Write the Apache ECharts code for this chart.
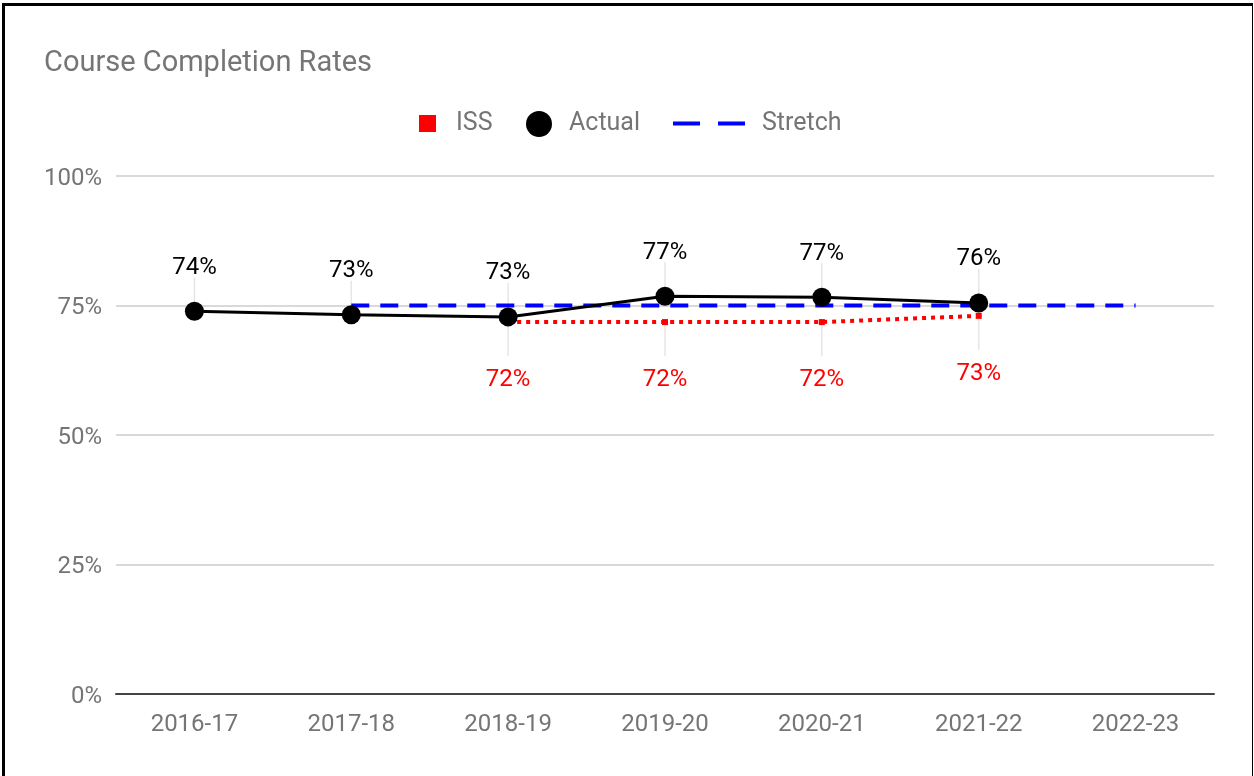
<!DOCTYPE html>
<html>
<head>
<meta charset="utf-8">
<title>Course Completion Rates</title>
<script src="https://cdn.jsdelivr.net/npm/echarts@6/dist/echarts.min.js"></script>
<style>
  html, body { margin: 0; padding: 0; background: #fff; }
  #wrap { position: relative; width: 1254px; height: 776px; overflow: hidden; }
  #chart { position: absolute; left: 0; top: 0; width: 1254px; height: 776px; }
  .frame { position: absolute; background: #000; }
</style>
</head>
<body>
<div id="wrap">
  <div id="chart"></div>
  <div class="frame" style="left:2px; top:3px; width:1251px; height:3px;"></div>
  <div class="frame" style="left:2px; top:3px; width:3px; height:773px;"></div>
  <div class="frame" style="left:1252px; top:3px; width:1px; height:773px;"></div>
</div>
<script>
// School years on the category axis
const years = ['2016-17', '2017-18', '2018-19', '2019-20', '2020-21', '2021-22', '2022-23'];
// Completion rate (%) per year
const actual = [73.9, 73.2, 72.8, 76.8, 76.6, 75.5, null];
const iss = [null, null, 71.8, 71.8, 71.8, 73.0, null];
const stretch = [null, 75, 75, 75, 75, 75, 75];
// Value-axis ticks
const yTicks = [0, 25, 50, 75, 100];

const FONT = 'Roboto';
const GREY = '#757575';

const chart = echarts.init(document.getElementById('chart'), null, { renderer: 'canvas' });

function pct(v) { return Math.round(v) + '%'; }

// Thin annotation stems linking value labels to their points
function stemSeries(values, dir) {
  const data = [];
  values.forEach((v, i) => { if (v != null) data.push([i, v]); });
  return {
    type: 'custom',
    silent: true,
    z: 1,
    data: data,
    renderItem: function (params, api) {
      const p = api.coord([api.value(0), api.value(1)]);
      const y2 = dir < 0 ? p[1] - 34 : p[1] + 34;
      return {
        type: 'line',
        shape: { x1: p[0], y1: p[1], x2: p[0], y2: y2 },
        style: { stroke: '#e6e6e6', lineWidth: 1.5 }
      };
    }
  };
}

const legendText = { color: GREY, fontSize: 25, fontFamily: FONT };

chart.setOption({
  backgroundColor: '#fff',
  animation: false,
  title: {
    text: 'Course Completion Rates',
    left: 44,
    top: 49,
    padding: 0,
    textStyle: { color: GREY, fontSize: 29, fontWeight: 'normal', fontFamily: FONT }
  },
  legend: [
    {
      data: [{ name: 'ISS', icon: 'rect' }],
      left: 419, top: 111, padding: 0, itemWidth: 17, itemHeight: 17,
      textStyle: Object.assign({ padding: [0, 0, 0, 15] }, legendText)
    },
    {
      data: [{ name: 'Actual', icon: 'circle' }],
      left: 526, top: 111, padding: 0, itemWidth: 26, itemHeight: 26,
      textStyle: Object.assign({ padding: [0, 0, 0, 12] }, legendText)
    },
    {
      data: [{ name: 'Stretch', icon: 'path://M0,0H27V4H0Z M45,0H72V4H45Z' }],
      left: 673, top: 111, padding: 0, itemWidth: 72, itemHeight: 4,
      textStyle: Object.assign({ padding: [0, 0, 0, 12] }, legendText)
    }
  ],
  grid: { left: 116, right: 40, top: 176, bottom: 82, containLabel: false },
  xAxis: {
    type: 'category',
    data: years,
    boundaryGap: true,
    axisLine: { show: true, lineStyle: { color: '#444', width: 2 } },
    axisTick: { show: false },
    axisLabel: { color: GREY, fontSize: 24, fontFamily: FONT, margin: 19 },
    splitLine: { show: false }
  },
  yAxis: {
    type: 'value',
    min: yTicks[0],
    max: yTicks[yTicks.length - 1],
    interval: yTicks[1] - yTicks[0],
    axisLine: { show: false },
    axisTick: { show: false },
    axisLabel: {
      color: GREY, fontFamily: FONT, margin: 14,
      formatter: '{t|{value}%}',
      rich: { t: { color: GREY, fontSize: 24, fontFamily: FONT, padding: [5, 0, 0, 0] } }
    },
    splitLine: { lineStyle: { color: '#cccccc', width: 1.5 } }
  },
  series: [
    stemSeries(actual, -1),
    stemSeries(iss, 1),
    {
      name: 'Stretch',
      type: 'line',
      data: stretch,
      z: 2,
      showSymbol: false,
      symbol: 'none',
      itemStyle: { color: '#0000ff' },
      lineStyle: { color: '#0000ff', width: 4, type: [18, 11] }
    },
    {
      name: 'ISS',
      type: 'line',
      data: iss,
      z: 3,
      symbol: 'rect',
      symbolSize: 6,
      itemStyle: { color: '#ff0000' },
      lineStyle: { color: '#ff0000', width: 4, type: [4, 5], cap: 'butt' },
      label: {
        show: true,
        position: 'bottom',
        distance: 43,
        color: '#ff0000',
        fontSize: 24,
        fontFamily: FONT,
        formatter: p => pct(p.value)
      }
    },
    {
      name: 'Actual',
      type: 'line',
      data: actual,
      z: 4,
      symbol: 'circle',
      symbolSize: 19,
      itemStyle: { color: '#000000' },
      lineStyle: { color: '#000000', width: 3 },
      label: {
        show: true,
        position: 'top',
        distance: 22,
        color: '#000000',
        fontSize: 24,
        fontFamily: FONT,
        formatter: p => pct(p.value)
      }
    }
  ]
});
</script>
</body>
</html>
